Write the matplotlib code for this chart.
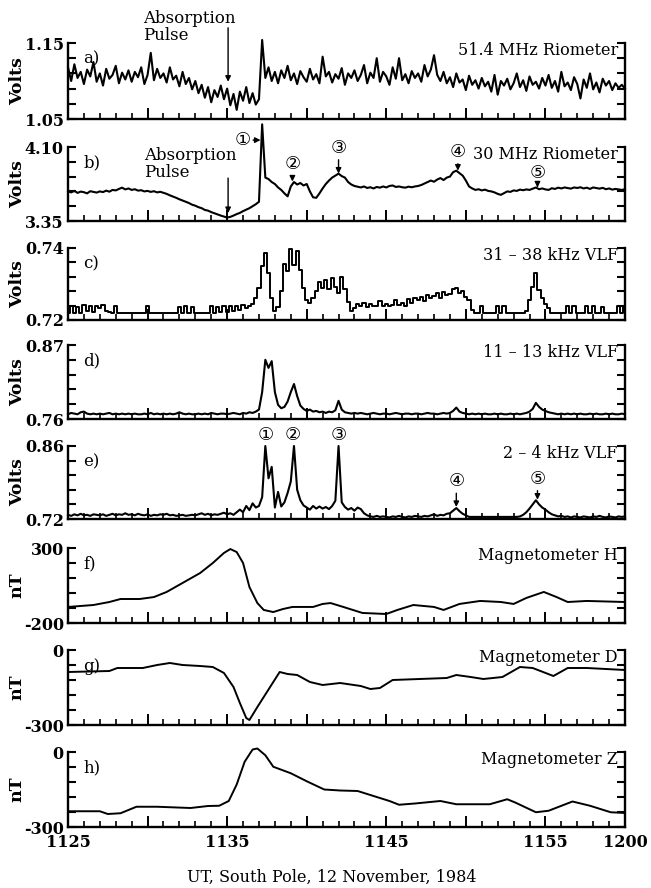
import numpy as np
import matplotlib.pyplot as plt

plt.rcParams['font.family'] = ['DejaVu Serif', 'DejaVu Sans', 'Noto Sans CJK JP']

# samples every 0.2 min from 1125 UT
riom51 = [1.118, 1.100, 1.122, 1.104, 1.112, 1.096, 1.115, 1.106, 1.125, 1.099,
          1.110, 1.094, 1.116, 1.103, 1.108, 1.120, 1.097, 1.111, 1.102, 1.114,
          1.099, 1.112, 1.105, 1.118, 1.096, 1.108, 1.137, 1.101, 1.116, 1.104,
          1.110, 1.098, 1.118, 1.102, 1.107, 1.093, 1.112, 1.096, 1.104, 1.089,
          1.100, 1.084, 1.095, 1.078, 1.092, 1.072, 1.088, 1.079, 1.094, 1.076,
          1.090, 1.068, 1.083, 1.062, 1.086, 1.074, 1.092, 1.071, 1.084, 1.069,
          1.076, 1.154, 1.104, 1.118, 1.100, 1.112, 1.097, 1.114, 1.104, 1.120,
          1.101, 1.110, 1.096, 1.113, 1.105, 1.099, 1.116, 1.102, 1.109, 1.097,
          1.132, 1.106, 1.112, 1.098, 1.109, 1.103, 1.117, 1.095, 1.110, 1.104,
          1.114, 1.100, 1.108, 1.121, 1.097, 1.111, 1.104, 1.130, 1.099, 1.112,
          1.106, 1.095, 1.118, 1.103, 1.130, 1.101, 1.109, 1.097, 1.113, 1.104,
          1.110, 1.099, 1.121, 1.106, 1.115, 1.134, 1.108, 1.100, 1.112, 1.097,
          1.105, 1.092, 1.110, 1.098, 1.102, 1.088, 1.107, 1.095, 1.101, 1.090,
          1.104, 1.093, 1.099, 1.086, 1.108, 1.082, 1.100, 1.094, 1.103, 1.089,
          1.097, 1.110, 1.092, 1.101, 1.087, 1.106, 1.095, 1.099, 1.090, 1.104,
          1.094, 1.108, 1.091, 1.100, 1.086, 1.112, 1.093, 1.098, 1.088, 1.105,
          1.096, 1.077, 1.102, 1.091, 1.110, 1.089, 1.098, 1.085, 1.103, 1.094,
          1.100, 1.088, 1.097, 1.091, 1.095, 1.090]

riom30 = [3.650, 3.640, 3.655, 3.635, 3.648, 3.642, 3.630, 3.652, 3.645, 3.638,
          3.650, 3.643, 3.658, 3.647, 3.665, 3.660, 3.675, 3.688, 3.670, 3.680,
          3.665, 3.672, 3.658, 3.662, 3.650, 3.655, 3.645, 3.652, 3.640, 3.646,
          3.635, 3.625, 3.610, 3.598, 3.585, 3.570, 3.558, 3.545, 3.532, 3.515,
          3.505, 3.490, 3.480, 3.462, 3.455, 3.440, 3.428, 3.415, 3.405, 3.395,
          3.385, 3.392, 3.405, 3.420, 3.432, 3.450, 3.465, 3.480, 3.500, 3.520,
          3.545, 4.330, 3.790, 3.775, 3.745, 3.725, 3.690, 3.665, 3.630, 3.600,
          3.700, 3.745, 3.720, 3.735, 3.710, 3.725, 3.650, 3.590, 3.585, 3.630,
          3.680, 3.725, 3.760, 3.790, 3.810, 3.830, 3.805, 3.790, 3.745, 3.720,
          3.705, 3.698, 3.690, 3.700, 3.685, 3.692, 3.680, 3.695, 3.688, 3.700,
          3.690, 3.705, 3.710, 3.695, 3.700, 3.692, 3.688, 3.698, 3.692, 3.700,
          3.705, 3.715, 3.730, 3.745, 3.760, 3.748, 3.770, 3.785, 3.765, 3.790,
          3.800, 3.845, 3.860, 3.835, 3.810, 3.760, 3.700, 3.680, 3.665, 3.672,
          3.660, 3.668, 3.655, 3.650, 3.640, 3.625, 3.615, 3.632, 3.650, 3.645,
          3.660, 3.655, 3.668, 3.662, 3.670, 3.665, 3.678, 3.690, 3.672, 3.680,
          3.670, 3.665, 3.682, 3.675, 3.688, 3.680, 3.690, 3.684, 3.678, 3.690,
          3.685, 3.692, 3.680, 3.688, 3.675, 3.690, 3.684, 3.678, 3.686, 3.672,
          3.680, 3.668, 3.675, 3.670, 3.665, 3.672]

vlf31 = [0.7220, 0.7238, 0.7220, 0.7236, 0.7220, 0.7242, 0.7225, 0.7240, 0.7222, 0.7238,
         0.7232, 0.7242, 0.7225, 0.7222, 0.7220, 0.7238, 0.7220, 0.7220, 0.7220, 0.7220,
         0.7220, 0.7220, 0.7220, 0.7220, 0.7220, 0.7238, 0.7220, 0.7220, 0.7220, 0.7220,
         0.7220, 0.7220, 0.7220, 0.7220, 0.7220, 0.7236, 0.7220, 0.7238, 0.7220, 0.7235,
         0.7220, 0.7220, 0.7220, 0.7220, 0.7220, 0.7238, 0.7220, 0.7236, 0.7222, 0.7238,
         0.7222, 0.7238, 0.7225, 0.7240, 0.7228, 0.7242, 0.7232, 0.7238, 0.7245, 0.7262,
         0.7290, 0.7350, 0.7386, 0.7330, 0.7260, 0.7225, 0.7235, 0.7280, 0.7355, 0.7335,
         0.7398, 0.7352, 0.7392, 0.7340, 0.7290, 0.7255, 0.7248, 0.7262, 0.7280, 0.7305,
         0.7288, 0.7310, 0.7285, 0.7318, 0.7292, 0.7275, 0.7320, 0.7285, 0.7250, 0.7225,
         0.7232, 0.7245, 0.7238, 0.7248, 0.7235, 0.7245, 0.7240, 0.7238, 0.7252, 0.7240,
         0.7245, 0.7238, 0.7242, 0.7255, 0.7242, 0.7248, 0.7238, 0.7258, 0.7248, 0.7262,
         0.7255, 0.7265, 0.7252, 0.7270, 0.7260, 0.7268, 0.7275, 0.7262, 0.7278, 0.7270,
         0.7272, 0.7285, 0.7290, 0.7275, 0.7280, 0.7265, 0.7255, 0.7228, 0.7220, 0.7220,
         0.7238, 0.7220, 0.7220, 0.7220, 0.7220, 0.7238, 0.7220, 0.7240, 0.7220, 0.7220,
         0.7220, 0.7220, 0.7220, 0.7220, 0.7225, 0.7255, 0.7292, 0.7330, 0.7282, 0.7260,
         0.7245, 0.7232, 0.7220, 0.7220, 0.7220, 0.7220, 0.7220, 0.7238, 0.7220, 0.7238,
         0.7220, 0.7220, 0.7220, 0.7238, 0.7220, 0.7238, 0.7220, 0.7220, 0.7236, 0.7220,
         0.7220, 0.7220, 0.7220, 0.7238, 0.7220, 0.7236]

vlf11 = [0.767, 0.769, 0.768, 0.767, 0.770, 0.771, 0.768, 0.767, 0.768, 0.767,
         0.768, 0.767, 0.768, 0.769, 0.767, 0.768, 0.767, 0.768, 0.767, 0.768,
         0.767, 0.768, 0.767, 0.767, 0.768, 0.767, 0.769, 0.767, 0.768, 0.767,
         0.768, 0.767, 0.768, 0.767, 0.768, 0.770, 0.768, 0.767, 0.768, 0.767,
         0.767, 0.768, 0.767, 0.768, 0.767, 0.769, 0.768, 0.767, 0.768, 0.768,
         0.767, 0.768, 0.769, 0.768, 0.767, 0.769, 0.768, 0.770, 0.769, 0.771,
         0.774, 0.800, 0.848, 0.836, 0.846, 0.800, 0.781, 0.776, 0.778, 0.786,
         0.800, 0.812, 0.794, 0.780, 0.775, 0.772, 0.774, 0.771, 0.772, 0.770,
         0.771, 0.769, 0.771, 0.770, 0.773, 0.787, 0.774, 0.770, 0.769, 0.768,
         0.769, 0.768, 0.769, 0.768, 0.767, 0.768, 0.769, 0.768, 0.767, 0.768,
         0.768, 0.767, 0.768, 0.769, 0.768, 0.767, 0.768, 0.768, 0.767, 0.768,
         0.768, 0.767, 0.768, 0.769, 0.768, 0.768, 0.767, 0.768, 0.769, 0.768,
         0.769, 0.772, 0.777, 0.771, 0.769, 0.768, 0.767, 0.768, 0.767, 0.768,
         0.767, 0.768, 0.767, 0.767, 0.768, 0.767, 0.768, 0.767, 0.767, 0.768,
         0.767, 0.768, 0.767, 0.768, 0.769, 0.771, 0.775, 0.784, 0.778, 0.774,
         0.772, 0.770, 0.769, 0.768, 0.767, 0.768, 0.767, 0.768, 0.767, 0.768,
         0.767, 0.768, 0.767, 0.767, 0.768, 0.767, 0.768, 0.767, 0.767, 0.768,
         0.767, 0.768, 0.767, 0.767, 0.768, 0.767]

vlf2 = [0.728, 0.726, 0.729, 0.727, 0.730, 0.727, 0.728, 0.726, 0.729, 0.728,
        0.727, 0.729, 0.726, 0.728, 0.730, 0.727, 0.729, 0.728, 0.731, 0.728,
        0.729, 0.727, 0.730, 0.728, 0.727, 0.729, 0.726, 0.728, 0.727, 0.729,
        0.728, 0.730, 0.727, 0.728, 0.726, 0.727, 0.728, 0.726, 0.727, 0.728,
        0.727, 0.729, 0.731, 0.728, 0.730, 0.727, 0.729, 0.728, 0.730, 0.732,
        0.729, 0.731, 0.728, 0.733, 0.738, 0.733, 0.745, 0.737, 0.750, 0.742,
        0.745, 0.762, 0.860, 0.798, 0.820, 0.742, 0.772, 0.744, 0.752, 0.770,
        0.792, 0.860, 0.776, 0.756, 0.746, 0.742, 0.738, 0.745, 0.740, 0.744,
        0.740, 0.743, 0.739, 0.745, 0.755, 0.860, 0.752, 0.743, 0.738, 0.741,
        0.736, 0.742, 0.739, 0.731, 0.727, 0.725, 0.724, 0.726, 0.724, 0.725,
        0.724, 0.723, 0.725, 0.724, 0.726, 0.724, 0.723, 0.725, 0.724, 0.726,
        0.725, 0.724, 0.726, 0.725, 0.727, 0.729, 0.726, 0.728, 0.727, 0.730,
        0.731, 0.736, 0.741, 0.735, 0.730, 0.727, 0.724, 0.724, 0.724, 0.724,
        0.724, 0.724, 0.724, 0.724, 0.724, 0.724, 0.724, 0.724, 0.724, 0.724,
        0.724, 0.724, 0.725, 0.728, 0.733, 0.740, 0.748, 0.756, 0.748, 0.742,
        0.738, 0.733, 0.729, 0.727, 0.725, 0.726, 0.724, 0.725, 0.723, 0.725,
        0.724, 0.723, 0.725, 0.724, 0.723, 0.725, 0.724, 0.726, 0.724, 0.723,
        0.725, 0.724, 0.723, 0.725, 0.724, 0.725]

# magnetometer traces, minutes after 1125 UT
t_magH = [0, 1.6, 2.6, 3.3, 4.5, 5.4, 6.2, 7.2, 8.3, 9.1, 9.8, 10.2, 10.6, 11.0, 11.4,
          11.9, 12.3, 12.9, 13.5, 14.1, 15.4, 16.0, 16.5, 17.3, 18.5, 20.0, 20.7, 21.7,
          23.0, 23.6, 24.6, 25.9, 27.2, 28.0, 28.8, 29.9, 30.7, 31.4, 32.6, 35.0]
magH = [-93, -80, -60, -40, -40, -27, 7, 67, 133, 200, 267, 293, 273, 200, 40,
        -67, -113, -127, -107, -93, -93, -73, -67, -93, -133, -140, -113, -80,
        -93, -113, -73, -53, -60, -73, -33, 7, -27, -60, -53, -60]

t_magD = [0, 2.6, 3.1, 4.7, 5.6, 6.4, 7.2, 8.3, 9.1, 9.8, 10.4, 10.8, 11.2, 11.4,
          11.9, 12.5, 13.3, 13.8, 14.4, 15.2, 16.0, 17.1, 18.4, 19.0, 19.6, 20.4,
          22.1, 23.8, 24.4, 25.3, 26.1, 27.3, 28.4, 29.2, 30.5, 31.4, 32.6, 35.0]
magD = [-88, -84, -72, -72, -60, -52, -60, -64, -68, -92, -148, -212, -272, -280,
        -228, -168, -88, -96, -100, -128, -140, -132, -144, -156, -152, -120,
        -116, -112, -100, -108, -116, -108, -68, -72, -104, -72, -72, -80]

t_magZ = [0, 2.0, 2.5, 3.3, 4.3, 5.6, 7.7, 8.8, 9.5, 10.1, 10.6, 11.1, 11.6, 11.9,
          12.4, 12.9, 14.0, 15.0, 16.1, 17.1, 18.2, 19.2, 20.2, 20.8, 21.8, 23.4,
          24.4, 26.5, 27.6, 28.1, 29.4, 30.2, 31.7, 32.8, 34.1, 35.0]
magZ = [-237, -237, -248, -245, -219, -219, -224, -216, -215, -196, -130, -39, 10, 14,
        -13, -59, -85, -117, -150, -154, -156, -176, -196, -211, -206, -196,
        -209, -209, -189, -202, -241, -235, -198, -215, -241, -244]

ylims = [(1.05, 1.15), (3.35, 4.10), (0.72, 0.74), (0.76, 0.87), (0.72, 0.86),
         (-200, 300), (-300, 0), (-300, 0)]
ylabs = [('1.05', '1.15'), ('3.35', '4.10'), ('0.72', '0.74'), ('0.76', '0.87'),
         ('0.72', '0.86'), ('-200', '300'), ('-300', '0'), ('-300', '0')]
units = ['Volts'] * 5 + ['nT'] * 3
letters = ['a)', 'b)', 'c)', 'd)', 'e)', 'f)', 'g)', 'h)']
names = ['51.4 MHz Riometer', '30 MHz Riometer', '31 \u2013 38 kHz VLF',
         '11 \u2013 13 kHz VLF', '2 \u2013 4 kHz VLF', 'Magnetometer H',
         'Magnetometer D', 'Magnetometer Z']
xtick_labels = ['1125', '', '1135', '', '1145', '', '1155', '1200']

t_s = np.arange(len(riom51)) * 0.2
series = [(t_s, riom51), (t_s, riom30), (t_s, vlf31), (t_s, vlf11), (t_s, vlf2),
          (t_magH, magH), (t_magD, magD), (t_magZ, magZ)]

# panel top/bottom in pixels
tops = [43, 147, 248, 345, 446, 548, 650, 752]
bots = [119, 221, 320, 419, 519, 623, 725, 827]
W, H = 651, 888

fig = plt.figure(figsize=(W / 100, H / 100), dpi=100)
axes = []
for i in range(8):
    ax = fig.add_axes([68 / W, 1 - bots[i] / H, 557 / W, (bots[i] - tops[i]) / H])
    axes.append(ax)
    x, y = series[i]
    if i == 2:
        ax.plot(x, y, color='black', lw=1.4, drawstyle='steps-mid', clip_on=False)
    else:
        ax.plot(x, y, color='black', lw=1.5 if i < 5 else 1.4, clip_on=False)
    lo, hi = ylims[i]
    ax.set_xlim(0, 35)
    ax.set_ylim(lo, hi)
    ax.spines['top'].set_visible(False)
    for s in ['left', 'right', 'bottom']:
        ax.spines[s].set_linewidth(1.7)
    ax.set_yticks(np.linspace(lo, hi, 6))
    ax.set_yticklabels([ylabs[i][0], '', '', '', '', ylabs[i][1]],
                       fontsize=11.5, fontweight='bold')
    ax.tick_params(axis='y', which='both', direction='in', left=True, right=True,
                   length=6, width=1.5, pad=3)
    ax.set_xticks(np.arange(0, 36, 5))
    ax.set_xticks(np.arange(0, 36, 1), minor=True)
    ax.tick_params(axis='x', which='major', direction='in', length=8, width=1.4)
    ax.tick_params(axis='x', which='minor', direction='in', length=4, width=1.2)
    if i == 7:
        ax.set_xticklabels(xtick_labels, fontsize=11.5, fontweight='bold')
        ax.tick_params(axis='x', pad=5)
    else:
        ax.set_xticklabels([])
    ax.set_ylabel(units[i], fontsize=12.5, fontweight='bold')
    ax.yaxis.set_label_coords(-0.076, 0.5)
    ax.text(0.028, 0.9, letters[i], transform=ax.transAxes, fontsize=12,
            va='top', ha='left')
    ax.text(0.987, 1.01, names[i], transform=ax.transAxes, fontsize=11.5,
            va='top', ha='right')

arr = dict(arrowstyle='-|>', color='black', lw=1.0, mutation_scale=8,
           shrinkA=0, shrinkB=0)
circ = dict(fontsize=13, ha='center', va='center', family=['DejaVu Sans', 'Noto Sans CJK JP'])

# absorption pulse arrows
ax = axes[0]
ax.annotate('', xy=(10.06, 1.099), xytext=(10.06, 1.170), arrowprops=arr,
            annotation_clip=False)
ax.text(4.7, 1.194, 'Absorption\nPulse', fontsize=12, va='top', ha='left',
        linespacing=1.0, clip_on=False)
ax = axes[1]
ax.annotate('', xy=(10.06, 3.43), xytext=(10.06, 3.785), arrowprops=arr,
            annotation_clip=False)
ax.text(4.8, 4.10, 'Absorption\nPulse', fontsize=12, va='top', ha='left',
        linespacing=1.0)

# numbered events on the 30 MHz riometer
ax.annotate('\u2460', xy=(12.1, 4.17), xytext=(10.95, 4.17), arrowprops=arr,
            annotation_clip=False, **circ)
ax.annotate('\u2461', xy=(14.1, 3.75), xytext=(14.1, 3.93), arrowprops=arr, **circ)
ax.annotate('\u2462', xy=(17.0, 3.83), xytext=(17.0, 4.09), arrowprops=arr, **circ)
ax.annotate('\u2463', xy=(24.5, 3.86), xytext=(24.5, 4.05), arrowprops=arr, **circ)
ax.annotate('\u2464', xy=(29.5, 3.69), xytext=(29.5, 3.835), arrowprops=arr, **circ)

# numbered events on the 2-4 kHz VLF
ax = axes[4]
ax.text(12.4, 0.882, '\u2460', clip_on=False, **circ)
ax.text(14.1, 0.882, '\u2461', clip_on=False, **circ)
ax.text(17.0, 0.882, '\u2462', clip_on=False, **circ)
ax.annotate('\u2463', xy=(24.4, 0.743), xytext=(24.4, 0.792), arrowprops=arr, **circ)
ax.annotate('\u2464', xy=(29.5, 0.757), xytext=(29.5, 0.797), arrowprops=arr, **circ)

fig.text(0.51, 1 - 877 / H, 'UT, South Pole, 12 November, 1984', fontsize=11.5,
         ha='center', va='center')

plt.savefig('out.png', dpi=100)
